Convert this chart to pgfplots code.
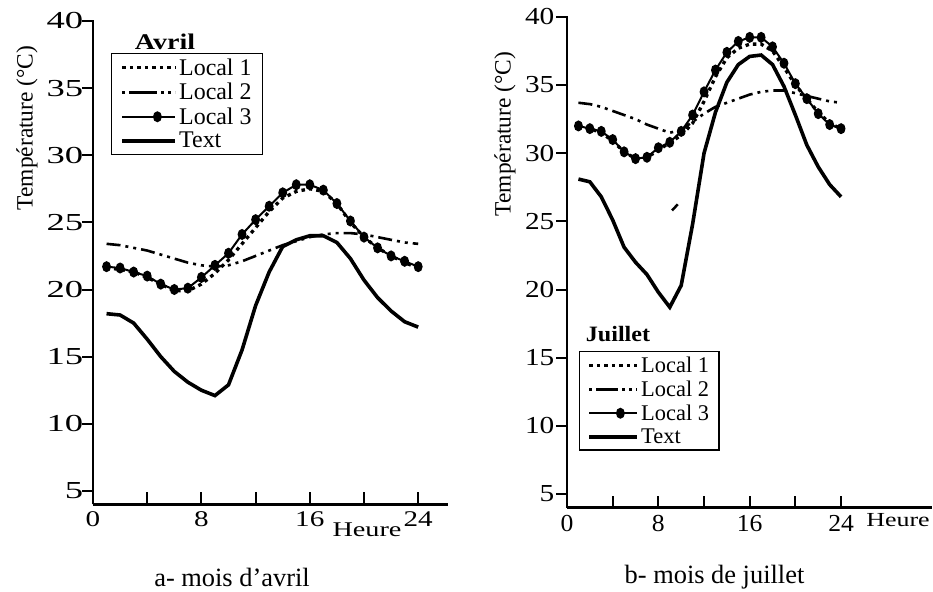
\documentclass[border=0pt]{standalone}
\usepackage{fontspec}
\setmainfont{Liberation Serif}
\usepackage{pgfplots}
\pgfplotsset{compat=1.18}

\pgfplotstableread{
h  L1   L2   L3   T
1  21.6 23.4 21.7 18.2
2  21.5 23.3 21.6 18.1
3  21.3 23.1 21.3 17.5
4  20.9 22.9 21.0 16.3
5  20.4 22.6 20.4 15.0
6  19.9 22.3 20.0 13.9
7  19.9 22.0 20.1 13.1
8  20.4 21.8 20.9 12.5
9  21.2 21.7 21.8 12.1
10 22.2 21.8 22.7 12.9
11 23.4 22.1 24.1 15.5
12 24.6 22.5 25.2 18.8
13 25.8 22.9 26.2 21.3
14 26.8 23.3 27.2 23.2
15 27.3 23.6 27.8 23.7
16 27.5 23.9 27.8 24.0
17 27.3 24.1 27.4 24.0
18 26.4 24.2 26.4 23.5
19 25.0 24.2 25.1 22.3
20 23.9 24.1 23.9 20.7
21 23.1 23.9 23.1 19.4
22 22.5 23.7 22.5 18.4
23 22.0 23.5 22.1 17.6
24 21.6 23.4 21.7 17.2
}\avril

\pgfplotstableread{
h  L1   L2   L3   T
1  32.0 33.7 32.0 28.1
2  31.8 33.6 31.8 27.9
3  31.5 33.4 31.6 26.8
4  30.9 33.1 31.0 25.1
5  30.1 32.8 30.1 23.1
6  29.6 32.5 29.6 22.0
7  29.7 32.1 29.7 21.1
8  30.2 31.8 30.4 19.8
9  30.8 31.5 30.8 18.7
10 31.3 31.7 31.6 20.3
11 32.2 32.3 32.8 24.8
12 33.8 32.9 34.5 30.0
13 35.6 33.4 36.1 33.0
14 37.0 33.7 37.4 35.2
15 37.7 34.0 38.2 36.5
16 38.0 34.3 38.5 37.1
17 38.0 34.5 38.5 37.2
18 37.5 34.6 37.8 36.5
19 36.3 34.6 36.6 34.9
20 35.0 34.4 35.1 32.8
21 34.0 34.2 34.0 30.6
22 33.0 34.0 32.9 29.0
23 32.2 33.8 32.1 27.7
24 31.8 33.7 31.8 26.8
}\juillet

\pgfplotsset{
  l1/.style={black, line width=3.3bp, dash pattern=on 3.5bp off 4bp, no markers},
  l2/.style={black, line width=2.6bp, dash pattern=on 14bp off 5bp on 3bp off 5bp on 3bp off 5bp, no markers},
  l3/.style={black, line width=2bp, mark=*, mark size=3.4bp, mark options={solid, yscale=1.3}},
  tx/.style={black, line width=3.6bp, no markers},
  legline/.style={legend image code/.code={\draw[##1] (0bp,0bp) -- (#1,0bp);}},
  legltwo/.style 2 args={legend image code/.code={\draw[##1, dash pattern=on 3bp off 4bp on #2 off 4bp on 3bp off 4bp on 3bp off 4bp] (0bp,0bp) -- (#1,0bp);}},
  leglthree/.style n args={4}{legend image code/.code={\path (0bp,0bp) -- (#1,0bp); \draw[mark repeat=2,mark phase=2,##1] plot coordinates {(#2,0bp)(#3,0bp)(#4,0bp)};}},
  base/.style={
    scale only axis, axis lines=left, axis line style={line width=2.6bp, -},
    xmin=0, ymin=4, ymax=40,
    xtick={0,4,...,24}, xticklabels={0,,8,,16,,24},
    ytick={5,10,...,40},
    tick align=inside, major tick length=12bp,
    every tick/.style={black, line width=2bp},
    ytick style={xshift=-11bp},
    /pgf/number format/assume math mode=true,
    legend cell align=left,
    clip=false,
  },
}

\begin{document}
\begin{tikzpicture}[x=1bp,y=1bp]
\useasboundingbox (0,0) rectangle (933,592);

% ---------- left panel ----------
\begin{axis}[base,
  at={(93bp,87.6bp)}, anchor=south west,
  width=355bp, height=483.5bp, xmax=26.2,
  yticklabel style={font=\fontsize{24.5}{26}\selectfont, xscale=1.5, xshift=-3bp},
  xticklabel style={font=\fontsize{22.5}{24}\selectfont, xscale=1.3, yshift=-4bp},
  legend style={at={(rel axis cs:0.0507,0.9336)}, anchor=north west,
    draw=black, line width=1.2bp, font=\fontsize{24}{26}\selectfont,
    inner xsep=9bp, inner ysep=3bp, row sep=2.5bp},
]
\addplot[l1, legline=53bp] table[x=h,y=L1] {\avril};
\addlegendentry{Local 1}
\addplot[l2, legltwo={53bp}{28bp}] table[x=h,y=L2] {\avril};
\addlegendentry{Local 2}
\addplot[l3, leglthree={53bp}{20bp}{35bp}{50bp}] table[x=h,y=L3] {\avril};
\addlegendentry{Local 3}
\addplot[tx, legline=53bp] table[x=h,y=T] {\avril};
\addlegendentry{Text}
\end{axis}
\node[font=\bfseries\fontsize{22.5}{24}\selectfont, xscale=1.25] at (165,550) {Avril};
\node[rotate=90, font=\fontsize{23.5}{26}\selectfont] at (27,464) {Température (°C)};
\node[font=\fontsize{21}{23}\selectfont, xscale=1.35] at (367,62) {Heure};
\node[font=\fontsize{26.5}{28}\selectfont] at (232,15) {a- mois d’avril};

% ---------- right panel ----------
\begin{axis}[base,
  at={(567bp,84.4bp)}, anchor=south west,
  width=365.4bp, height=490.7bp, xmax=32,
  yticklabel style={font=\fontsize{24.5}{26}\selectfont, xscale=1.2, xshift=-7bp},
  xticklabel style={font=\fontsize{24.5}{26}\selectfont, xscale=1.05, yshift=-4bp},
  legend style={at={(rel axis cs:0.0328,0.319)}, anchor=north west,
    draw=black, line width=1.2bp, font=\fontsize{22.5}{24}\selectfont,
    inner xsep=8bp, inner ysep=3bp, row sep=3bp},
]
\addplot[l1, legline=48bp] table[x=h,y=L1] {\juillet};
\addlegendentry{Local 1}
\addplot[l2, legltwo={48bp}{22bp}] table[x=h,y=L2] {\juillet};
\addlegendentry{Local 2}
\addplot[l3, leglthree={48bp}{16bp}{31bp}{46bp}] table[x=h,y=L3] {\juillet};
\addlegendentry{Local 3}
\addplot[tx, legline=48bp] table[x=h,y=T] {\juillet};
\addlegendentry{Text}
\addplot[black, line width=2.5bp, forget plot] coordinates {(9.2,25.8) (9.7,26.25)};
\end{axis}
\node[font=\bfseries\fontsize{22}{24}\selectfont, xscale=1.1] at (618,258) {Juillet};
\node[rotate=90, font=\fontsize{23.5}{26}\selectfont] at (505,458) {Température (°C)};
\node[font=\fontsize{20}{22}\selectfont, xscale=1.3] at (898,72) {Heure};
\node[font=\fontsize{26.5}{28}\selectfont] at (714.5,15) {b- mois de juillet};
\end{tikzpicture}
\end{document}
